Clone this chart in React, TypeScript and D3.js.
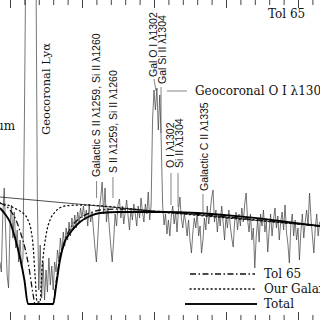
import { useRef, useEffect } from 'react';
import * as d3 from 'd3';

// observed spectrum, 1 Å bins from 1193 Å (flux, arbitrary units)
const SPEC_START = 1193;
const SPEC_FLUX = [
  0.42, 0.32, 0.89, 1.16, 0.72, 0.29, 0.16, 0.78, 0.99, 0.66,
  0.92, 0.56, 0.74, 0.42, 0.64, 0.36, 0.46, 1.84, 3.5, 3.5,
  3.5, 3.5, 3.5, 3.5, 3.5, 3.5, 1.04, 0.14, 0.59, 0.06,
  0.42, 0.04, 0.34, 0.12, 0.46, 0.19, 0.38, 0.14, 0.42, 0.32,
  0.54, 0.42, 0.66, 0.52, 0.72, 0.58, 0.76, 0.64, 0.82, 0.68,
  0.86, 0.74, 0.89, 0.76, 0.92, 0.82, 0.96, 0.86, 0.98, 0.84,
  0.94, 0.78, 1.00, 0.82, 0.92, 0.74, 0.56, 0.42, 0.66, 0.94,
  1.06, 1.22, 0.90, 1.16, 0.82, 0.96, 0.76, 0.58, 0.42, 0.64,
  0.90, 0.78, 0.99, 1.05, 0.86, 0.98, 0.80, 0.92, 1.04, 0.88,
  0.74, 0.96, 0.84, 1.00, 0.90, 0.78, 0.98, 0.86, 1.06, 0.92,
  0.82, 1.00, 0.90, 1.12, 0.84, 0.99, 1.84, 2.14, 1.94, 2.16,
  1.74, 2.09, 1.64, 0.99, 0.79, 0.90, 0.70, 0.84, 0.68, 0.88,
  0.98, 0.80, 0.92, 0.72, 0.94, 1.07, 0.86, 0.76, 0.90, 0.82,
  0.68, 0.84, 0.64, 0.51, 0.72, 0.86, 0.76, 0.92, 0.68, 0.78,
  0.51, 0.64, 0.86, 0.74, 0.98, 0.80, 0.92, 1.06, 1.14, 0.82,
  0.94, 0.72, 0.90, 0.78, 0.98, 0.82, 0.64, 0.88, 0.76, 0.94,
  0.78, 0.66, 0.57, 0.82, 0.92, 0.74, 0.90, 0.78, 0.96, 0.82,
  1.00, 1.11, 0.84, 0.72, 0.90, 0.64, 0.76, 0.36, 0.68, 0.84,
  0.62, 0.90, 0.78, 0.94, 0.72, 0.82, 0.52, 0.74, 0.90, 0.68,
  0.84, 0.96, 0.76, 0.88, 0.64, 0.82, 0.92, 0.74, 0.99, 0.72,
  0.60, 0.41, 0.78, 0.90, 0.68, 0.84, 0.64, 0.76, 0.44, 0.72,
  0.90, 0.66, 0.82, 0.94, 0.78, 1.11, 0.86, 0.68, 0.51, 0.76,
  0.90, 0.68, 0.82,
];

// continuum (thin straight line)
const CONT_LAM = [1193, 1415];
const CONT_FLUX = [1.07, 0.78];

// model profiles
const TOTAL_LAM = [1193, 1196.5, 1200, 1203.5, 1207, 1210, 1212.5, 1230, 1232, 1234.7, 1238, 1241.7, 1245, 1248.6, 1255.6, 1262.5, 1276.4, 1304, 1415];
const TOTAL_FLUX = [0.96, 0.90, 0.82, 0.66, 0.46, 0.24, 0, 0, 0.18, 0.44, 0.62, 0.71, 0.77, 0.82, 0.88, 0.91, 0.92, 0.92, 0.78];

const TOL_LAM = [1193, 1200, 1204.2, 1207.6, 1210.4, 1213.2, 1216, 1217.4, 1229.9, 1232, 1234.7, 1238.2, 1241.7, 1248.6, 1255.6, 1262.5, 1276.4, 1304, 1415];
const TOL_FLUX = [1.01, 0.94, 0.84, 0.70, 0.56, 0.36, 0.10, 0, 0, 0.22, 0.46, 0.64, 0.75, 0.86, 0.91, 0.94, 0.95, 0.925, 0.78];

const GAL_LAM = [1193, 1200, 1205.6, 1209, 1212.5, 1214.6, 1216, 1217.4, 1218.8, 1220.8, 1222.2, 1224, 1225.7, 1227.8, 1231.3, 1238.2, 1248.6, 1304, 1415];
const GAL_FLUX = [1.01, 0.98, 0.94, 0.91, 0.84, 0.74, 0.59, 0.29, 0.02, 0.02, 0.34, 0.59, 0.74, 0.84, 0.92, 0.98, 0.99, 0.92, 0.78];

const MAJOR_TICKS = [1200, 1250, 1300, 1350, 1400];

// rotated line identifications: text, baseline wavelength, flux where text starts
const ROT_LABELS = [
  { text: 'Galactic S II \u03bb1259, Si II \u03bb1260', lam: 1262.5, flux: 1.27 },
  { text: 'S II \u03bb1259, Si II \u03bb1260', lam: 1274.3, flux: 1.31 },
  { text: 'Gal O I \u03bb1302', lam: 1302.1, flux: 2.27 },
  { text: 'Gal Si II \u03bb1304', lam: 1308.3, flux: 2.2 },
  { text: 'O I \u03bb1302', lam: 1313.9, flux: 1.36 },
  { text: 'Si II \u03bb1304', lam: 1320.1, flux: 1.36 },
  { text: 'Galactic C II \u03bb1335', lam: 1337.5, flux: 1.13 },
];

// leader lines: [lam1, flux1, lam2, flux2]
const LEADERS = [
  [1260.1, 1.23, 1260.1, 1.06],
  [1271.5, 1.27, 1271.5, 1.06],
  [1300.0, 2.25, 1301.4, 2.13],
  [1304.9, 2.17, 1304.9, 1.71],
  [1311.8, 1.31, 1311.8, 0.99],
  [1316.7, 1.31, 1316.7, 0.97],
  [1334.0, 1.10, 1334.0, 0.91],
  [1309.0, 2.13, 1322.9, 2.13],
];

const LEGEND = [
  { label: 'Tol 65', dash: '6,2.5,1.5,2.5', width: 1.3, cap: 'butt' },
  { label: 'Our Galaxy', dash: '1.2,3', width: 1.3, cap: 'round' },
  { label: 'Total', dash: null, width: 1.8, cap: 'butt' },
];

const SERIF = 'DejaVu Serif, serif';
const SANS = 'Liberation Sans, Arial, sans-serif';

export default function App() {
  const ref = useRef<SVGSVGElement>(null);

  useEffect(() => {
    const svg = d3.select(ref.current);
    svg.selectAll('*').remove();

    const x = d3.scaleLinear().domain([1193.06, 1415.28]).range([0, 320]);
    const y = d3.scaleLinear().domain([0, 3.2]).range([304, -16]);

    const g = svg.append('g');

    const spec = SPEC_FLUX.map((f, i) => [SPEC_START + i, f] as [number, number]);
    const line = d3.line<[number, number]>().x(d => x(d[0])).y(d => y(d[1]));
    const smooth = d3.line<[number, number]>().x(d => x(d[0])).y(d => y(d[1])).curve(d3.curveMonotoneX);
    const zip = (a: number[], b: number[]) => a.map((v, i) => [v, b[i]] as [number, number]);

    // spectrum
    g.append('path').attr('d', line(spec)).attr('fill', 'none')
      .attr('stroke', '#3c3c3c').attr('stroke-width', 0.7).attr('stroke-linejoin', 'round');

    // continuum
    g.append('path').attr('d', line(zip(CONT_LAM, CONT_FLUX))).attr('fill', 'none')
      .attr('stroke', '#222').attr('stroke-width', 0.8);

    // Our Galaxy (dotted)
    g.append('path').attr('d', smooth(zip(GAL_LAM, GAL_FLUX))).attr('fill', 'none')
      .attr('stroke', '#111').attr('stroke-width', 1.3).attr('stroke-dasharray', '1.2,3')
      .attr('stroke-linecap', 'round');

    // Tol 65 (dash-dot)
    g.append('path').attr('d', smooth(zip(TOL_LAM, TOL_FLUX))).attr('fill', 'none')
      .attr('stroke', '#111').attr('stroke-width', 1.3).attr('stroke-dasharray', '6,2.5,1.5,2.5');

    // Total
    g.append('path').attr('d', smooth(zip(TOTAL_LAM, TOTAL_FLUX))).attr('fill', 'none')
      .attr('stroke', '#000').attr('stroke-width', 1.9);

    // leader lines
    LEADERS.forEach(([l1, f1, l2, f2]) => {
      g.append('line').attr('x1', x(l1)).attr('y1', y(f1)).attr('x2', x(l2)).attr('y2', y(f2))
        .attr('stroke', '#333').attr('stroke-width', 0.6);
    });

    // rotated labels
    ROT_LABELS.forEach(d => {
      g.append('text').attr('transform', `translate(${x(d.lam)},${y(d.flux)}) rotate(-90)`)
        .attr('font-family', SANS).attr('font-size', '10.5px').attr('fill', '#111')
        .text(d.text);
    });
    g.append('text').attr('transform', `translate(${x(1227.8)},${y(1.69)}) rotate(-90)`)
      .attr('font-family', SERIF).attr('font-size', '11.5px').attr('fill', '#111')
      .text('Geocoronal Ly\u03b1');

    // horizontal labels
    g.append('text').attr('x', x(1328.5)).attr('y', y(2.09))
      .attr('font-family', SERIF).attr('font-size', '12px').attr('fill', '#111')
      .text('Geocoronal O I \u03bb1304');
    g.append('text').attr('x', x(1379.2)).attr('y', y(2.86))
      .attr('font-family', SERIF).attr('font-size', '12px').attr('fill', '#111')
      .text('Tol 65');
    g.append('text').attr('x', x(1203.5)).attr('y', y(1.74)).attr('text-anchor', 'end')
      .attr('font-family', SERIF).attr('font-size', '12px').attr('fill', '#111')
      .text('Continuum');

    // legend
    LEGEND.forEach((d, i) => {
      const ly = 274 + i * 15;
      const ln = g.append('line').attr('x1', i === 2 ? 185 : 190).attr('x2', i === 2 ? 257 : 255)
        .attr('y1', ly).attr('y2', ly).attr('stroke', '#111').attr('stroke-width', d.width)
        .attr('stroke-linecap', d.cap);
      if (d.dash) ln.attr('stroke-dasharray', d.dash);
      g.append('text').attr('x', 264).attr('y', ly + 4)
        .attr('font-family', SERIF).attr('font-size', '12px').attr('fill', '#111')
        .text(d.label);
    });

    // tick marks on the (off-screen) top and bottom frame
    const minor = d3.range(1190, 1420, 10).filter(v => !MAJOR_TICKS.includes(v));
    const addAxis = (axis: d3.Axis<d3.NumberValue>, ty: number) => {
      const a = g.append('g').attr('transform', `translate(0,${ty})`).call(axis);
      a.selectAll('.tick line').attr('stroke', '#111').attr('stroke-width', 0.8);
      a.select('.domain').attr('stroke', '#111');
    };
    addAxis(d3.axisBottom(x).tickValues(minor).tickSizeInner(-6).tickSizeOuter(0).tickFormat(() => ''), 321);
    addAxis(d3.axisBottom(x).tickValues(MAJOR_TICKS).tickSizeInner(-9).tickSizeOuter(0).tickFormat(() => ''), 321);
    addAxis(d3.axisTop(x).tickValues(minor).tickSizeInner(-6).tickSizeOuter(0).tickFormat(() => ''), -1);
    addAxis(d3.axisTop(x).tickValues(MAJOR_TICKS).tickSizeInner(-9).tickSizeOuter(0).tickFormat(() => ''), -1);
  }, []);

  return (
    <svg ref={ref} width={320} height={320}
      style={{ position: 'absolute', left: 0, top: 0, background: '#fff', overflow: 'hidden' }} />
  );
}
